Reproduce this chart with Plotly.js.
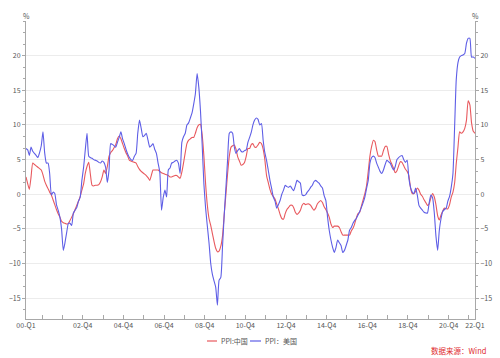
<!DOCTYPE html>
<html>
<head>
<meta charset="utf-8">
<script src="https://cdn.plot.ly/plotly-3.0.1.min.js"></script>
<style>
html,body{margin:0;padding:0;background:#fff;}
#chart{width:500px;height:358px;}
</style>
</head>
<body>
<div id="chart"></div>
<script>
// Monthly data, Jan 2000 .. Feb 2022 (yoy %)
const startYear = 2000;
const startMonth = 1;

const cnPPI = [
  2.5, 1.5, 0.7, 2.5, 4.5, 4.3, 4.1, 3.9, 3.7, 3.5, 2.8, 1.9,
  1.3, 0.8, 0.3, -0.1, -0.8, -1.5, -2.2, -2.8, -3.3, -3.9, -4.1, -4.2,
  -4.3, -4.2, -3.8, -3.3, -2.8, -2.2, -1.6, -1.0, -0.3, 0.6, 1.5, 3.0,
  4.0, 4.6, 3.0, 1.3, 1.2, 1.3, 1.3, 1.4, 1.8, 2.5, 3.5, 3.0,
  4.0, 5.5, 6.0, 6.3, 6.7, 7.2, 8.0, 8.4, 8.0, 7.3, 6.6, 6.0,
  5.5, 4.9, 4.8, 4.7, 4.6, 4.5, 4.0, 3.6, 3.3, 3.1, 2.9, 2.7,
  2.4, 2.0, 2.7, 3.5, 3.5, 3.5, 3.5, 3.3, 3.1, 3.0, 2.9, 2.8,
  2.7, 2.5, 2.5, 2.6, 2.7, 2.7, 2.5, 2.3, 3.2, 4.5, 6.0, 7.3,
  7.8, 8.0, 8.2, 8.2, 8.8, 9.6, 10.0, 10.1, 8.5, 5.5, 1.5, -1.5,
  -3.5, -4.5, -5.6, -6.8, -7.8, -8.3, -8.2, -7.5, -6.0, -3.0, 0.0, 3.0,
  5.5, 6.8, 7.0, 7.1, 6.5, 5.4, 4.8, 4.2, 4.3, 4.6, 5.5, 6.6,
  6.6, 7.2, 7.3, 6.8, 6.8, 7.1, 7.5, 7.3, 6.5, 5.0, 2.7, 1.7,
  0.7, 0.0, -0.3, -0.7, -1.4, -2.1, -2.9, -3.5, -3.6, -2.8, -2.2, -1.9,
  -1.6, -1.6, -1.9, -2.6, -2.9, -2.7, -2.3, -1.6, -1.3, -1.5, -1.4, -1.4,
  -1.6, -2.0, -2.3, -2.0, -1.4, -1.1, -0.9, -1.2, -1.8, -2.2, -2.7, -3.3,
  -4.3, -4.8, -4.6, -4.6, -4.6, -4.8, -5.4, -5.9, -5.9, -5.9, -5.9, -5.9,
  -5.3, -4.9, -4.3, -3.4, -2.8, -2.6, -1.7, -0.8, 0.1, 1.2, 3.3, 5.5,
  6.9, 7.8, 7.6, 6.4, 5.5, 5.5, 5.5, 6.3, 6.9, 6.9, 5.8, 4.9,
  4.3, 3.7, 3.1, 3.4, 4.1, 4.7, 4.6, 4.1, 3.6, 3.3, 2.7, 0.9,
  0.1, 0.1, 0.4, 0.9, 0.6, 0.0, -0.3, -0.8, -1.2, -1.6, -1.4, -0.5,
  0.1, -0.4, -1.5, -3.1, -3.7, -3.0, -2.4, -2.0, -2.1, -2.1, -1.5, -0.4,
  0.3, 1.7, 4.4, 6.8, 9.0, 8.8, 9.0, 9.5, 10.7, 13.5, 12.9, 10.3,
  9.1, 8.8
];

const usPPI = [
  6.6, 6.4, 5.6, 6.8, 6.2, 5.9, 5.6, 5.3, 6.0, 7.0, 9.0, 6.0,
  4.5, 4.5, 3.0, -0.1, 0.3, 0.1, -1.5, -2.3, -3.3, -5.0, -8.1, -7.0,
  -5.5, -4.2, -4.2, -4.5, -2.7, -2.3, -1.9, -1.0, -0.4, 2.0, 3.9, 6.4,
  8.8, 5.5, 5.3, 5.2, 5.0, 4.9, 4.8, 4.6, 4.5, 4.8, 4.6, 3.9,
  1.7, 3.5, 7.3, 7.2, 7.0, 6.8, 7.5, 8.2, 9.0, 8.0, 7.3, 6.5,
  5.8, 5.3, 5.0, 4.9, 5.5, 5.9, 8.8, 10.7, 9.5, 8.3, 8.5, 8.8,
  7.8, 6.8, 7.0, 7.3, 6.5, 5.9, 4.5, 3.2, -2.3, -0.5, 0.6, -0.4,
  3.5, 3.8, 4.5, 4.6, 4.8, 4.9, 4.5, 3.0, 7.5, 8.3, 8.8, 10.0,
  10.3, 11.0, 11.7, 13.0, 14.5, 17.4, 15.5, 12.0, 7.0, 1.5, -2.0, -4.5,
  -7.0, -10.0, -11.5, -12.5, -13.4, -16.0, -12.4, -12.0, -7.5, -3.0, 1.0, 5.0,
  8.8, 9.0, 8.8, 6.8, 5.9, 6.3, 6.6, 6.2, 6.1, 6.3, 6.4, 7.5,
  8.2, 9.0, 10.0, 10.7, 11.0, 10.8, 10.0, 10.2, 7.8, 6.0, 4.9, 3.5,
  2.0, 0.8, -0.4, -1.0, -2.0, -1.5, -0.9, 0.0, 0.6, 1.3, 1.1, 1.0,
  1.2, 0.8, 0.5, 1.2, 2.0, 1.8, 1.6, -0.1, -0.2, -0.1, 0.3, 0.6,
  1.0, 1.3, 1.8, 2.0, 1.8, 1.6, 1.2, 0.9, -0.2, -0.9, -3.3, -5.2,
  -6.6, -7.7, -8.4, -7.7, -6.6, -7.0, -7.4, -8.4, -8.1, -7.4, -6.6, -5.2,
  -4.8, -4.2, -3.8, -3.5, -3.0, -2.5, -1.9, -1.2, -0.4, 0.8, 2.0, 4.5,
  5.3, 5.5, 5.3, 4.5, 3.9, 3.3, 3.0, 3.5, 4.3, 4.9, 4.7, 4.5,
  3.9, 3.5, 4.0, 5.0, 5.3, 5.5, 5.6, 5.0, 4.6, 4.9, 2.3, 1.0,
  0.3, 0.1, 0.9, -0.1, -1.6, -2.0, -2.3, -2.6, -2.7, -2.7, -1.2, -0.1,
  -0.5, -2.7, -6.0, -8.1, -5.2, -3.5, -2.5, -2.2, -2.0, -1.0, -0.3, 1.0,
  3.0, 10.0, 16.5, 19.0, 19.8, 20.0, 20.1, 20.3, 21.8, 22.5, 22.5, 19.8,
  19.8, 19.6
];

const seriesNames = ['PPI:中国', 'PPI：美国'];
const seriesColors = ['#e8595e', '#5e5ee6'];

const xTickVals = ['2000-01-01 06:00'];
const xTickText = ['00-Q1'];
for (let y = 2000; y <= 2021; y++) {
  xTickVals.push(y + '-10-16');
  xTickText.push((y % 2 === 0 && y >= 2002 && y <= 2020) ? String(y).slice(2) + '-Q4' : '');
}
xTickVals.push('2022-01-31');
xTickText.push('22-Q1');

const yTickVals = [-15, -10, -5, 0, 5, 10, 15, 20];
const yRange = [-18, 25];

function pad(n){ return n < 10 ? '0' + n : '' + n; }
const dates = cnPPI.map((_, i) => {
  const t = (startMonth - 1) + i;
  const yy = startYear + Math.floor(t / 12);
  const mm = (t % 12) + 1;
  return yy + '-' + pad(mm) + '-01';
});

const traces = [
  {x: dates, y: cnPPI, type: 'scatter', mode: 'lines', name: seriesNames[0],
   line: {color: seriesColors[0], width: 1.1, shape: 'spline', smoothing: 0.5}, yaxis: 'y'},
  {x: dates, y: usPPI, type: 'scatter', mode: 'lines', name: seriesNames[1],
   line: {color: seriesColors[1], width: 1.1, shape: 'spline', smoothing: 0.5}, yaxis: 'y2'}
];

const axisColor = '#a8a8a8';
const tickFont = {family: '"Noto Sans CJK SC", "Noto Sans", sans-serif', size: 7, color: '#555'};

function yAxis(side) {
  return {
    range: yRange, tickmode: 'array', tickvals: yTickVals,
    ticks: 'outside', ticklen: 3, tickcolor: axisColor, tickwidth: 1,
    showline: true, linecolor: axisColor, linewidth: 1,
    showgrid: side === 'left', gridcolor: '#ececec', gridwidth: 1,
    zeroline: false, tickfont: tickFont, side: side, fixedrange: true,
    minor: {tickmode: 'linear', tick0: 0, dtick: 5/3, ticks: 'outside', ticklen: 2, tickcolor: axisColor, showgrid: false}
  };
}

const y2 = yAxis('right');
y2.overlaying = 'y';

const L = 26, W = 449, T = 21, H = 298;
const px = v => (v - L) / W;
const py = v => (T + H - v) / H;

const layout = {
  width: 500, height: 358,
  margin: {l: L, r: 500 - L - W, t: T, b: 358 - T - H, pad: 0},
  paper_bgcolor: '#fff', plot_bgcolor: '#fff',
  font: {family: '"Noto Sans CJK SC", "Noto Sans", sans-serif', size: 7, color: '#555'},
  showlegend: false,
  xaxis: {
    type: 'date', range: ['2000-01-01', '2022-02-01'],
    tickmode: 'array', tickvals: xTickVals, ticktext: xTickText,
    ticks: 'inside', ticklen: 4, tickcolor: axisColor, tickwidth: 1,
    showline: true, linecolor: axisColor, linewidth: 1,
    showgrid: false, zeroline: false, tickfont: tickFont, tickangle: 0, fixedrange: true
  },
  yaxis: yAxis('left'),
  yaxis2: y2,
  shapes: [
    {type: 'line', xref: 'paper', yref: 'paper', x0: px(207), x1: px(217), y0: py(341), y1: py(341),
     line: {color: seriesColors[0], width: 1.2}},
    {type: 'line', xref: 'paper', yref: 'paper', x0: px(250), x1: px(261), y0: py(341), y1: py(341),
     line: {color: seriesColors[1], width: 1.2}}
  ],
  annotations: [
    {text: '%', xref: 'paper', yref: 'paper', x: 0, y: py(16), xanchor: 'center', yanchor: 'middle',
     showarrow: false, font: {size: 7, color: '#555'}},
    {text: '%', xref: 'paper', yref: 'paper', x: 1, y: py(16), xanchor: 'center', yanchor: 'middle',
     showarrow: false, font: {size: 7, color: '#555'}},
    {text: seriesNames[0], xref: 'paper', yref: 'paper', x: px(219), y: py(341), xanchor: 'left', yanchor: 'middle',
     showarrow: false, font: {size: 7, color: '#555'}},
    {text: seriesNames[1], xref: 'paper', yref: 'paper', x: px(263), y: py(341), xanchor: 'left', yanchor: 'middle',
     showarrow: false, font: {size: 7, color: '#555'}},
    {text: '数据来源：Wind', xref: 'paper', yref: 'paper', x: px(488), y: py(350), xanchor: 'right', yanchor: 'middle',
     showarrow: false, font: {size: 7.5, color: '#e0282d'}}
  ]
};

Plotly.newPlot('chart', traces, layout, {staticPlot: true, displayModeBar: false});
</script>
</body>
</html>
